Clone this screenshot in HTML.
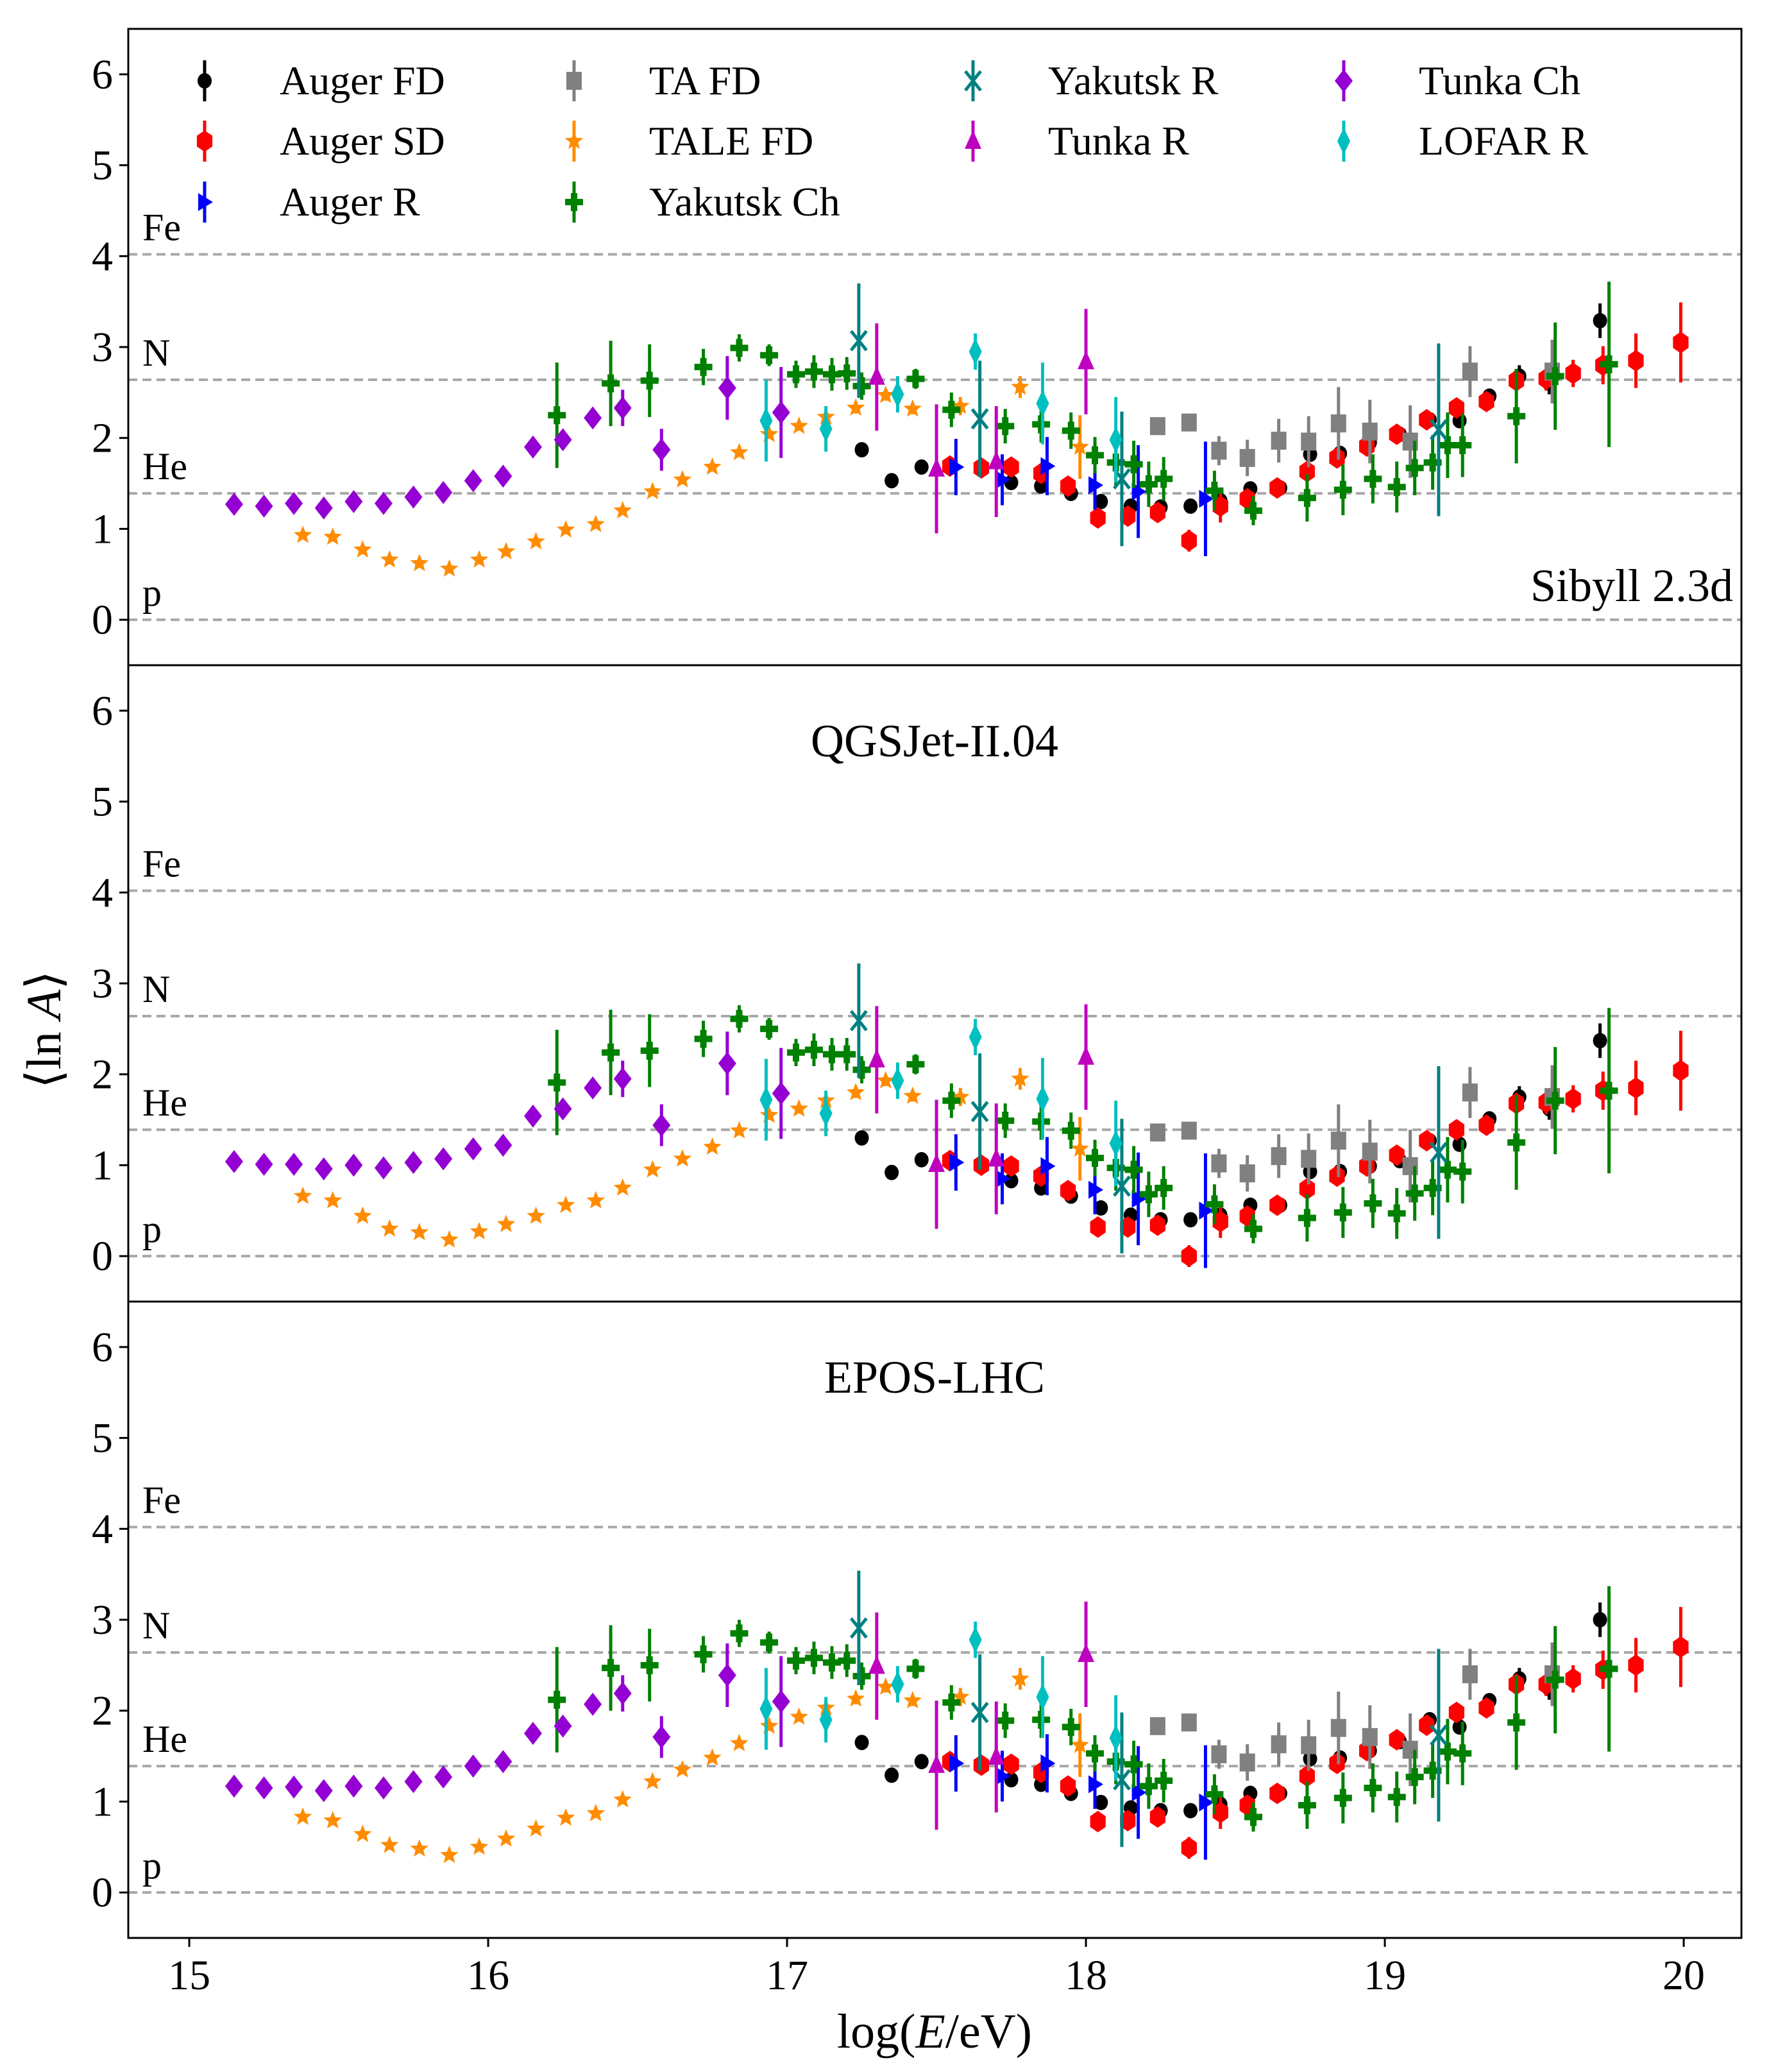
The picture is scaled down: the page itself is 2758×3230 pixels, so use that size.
<!DOCTYPE html>
<html><head><meta charset="utf-8"><style>
html,body{margin:0;padding:0;background:#fff}
svg{display:block}
text{font-family:"Liberation Serif",serif;fill:#000}
</style></head><body>
<svg id="chart" width="2758" height="3230" viewBox="0 0 2758 3230" xmlns="http://www.w3.org/2000/svg">
<rect width="2758" height="3230" fill="#fff"/>
<g id="layer"></g>
<text x="1457" y="3192" font-size="76" text-anchor="middle">log(<tspan font-style="italic">E</tspan>/eV)</text>
<text transform="translate(94,1605) rotate(-90)" font-size="76" text-anchor="middle">⟨ln <tspan font-style="italic">A</tspan>⟩</text>
</svg>
<script>
const panelNames = ["Sibyll 2.3d","QGSJet-II.04","EPOS-LHC"];
const xTicks = [15,16,17,18,19,20];
const yTicks = [0,1,2,3,4,5,6];
const refNames = ["Fe","N","He","p"];
const refValues = [4.02,2.64,1.39,0];

const augerFdX = [17.25,17.35,17.45,17.55,17.65,17.75,17.85,17.95,18.05,18.15,18.25,18.35,18.45,18.55,18.65,18.75,18.85,18.95,19.05,19.15,19.25,19.35,19.45,19.55,19.72];
const augerFdY1 = [1.87,1.53,1.68,1.68,1.66,1.51,1.47,1.39,1.30,1.25,1.24,1.25,1.31,1.44,1.45,1.82,1.83,1.95,2.04,2.20,2.19,2.46,2.68,2.60,3.29];
const augerFdY2 = [1.30,0.92,1.06,1.04,1.01,0.83,0.75,0.66,0.53,0.45,0.40,0.40,0.45,0.56,0.56,0.93,0.93,0.99,1.05,1.27,1.23,1.51,1.75,1.62,2.37];
const augerFdY3 = [1.65,1.29,1.44,1.44,1.40,1.24,1.19,1.09,0.99,0.93,0.90,0.90,0.97,1.09,1.09,1.47,1.48,1.56,1.66,1.90,1.82,2.11,2.35,2.24,3.00];
const augerFdErr = [0.07,0.06,0.05,0.05,0.05,0.05,0.05,0.05,0.05,0.05,0.05,0.05,0.05,0.05,0.05,0.06,0.06,0.06,0.07,0.07,0.08,0.08,0.12,0.12,0.19];

const augerSdX = [17.545,17.65,17.75,17.85,17.94,18.04,18.14,18.24,18.345,18.45,18.54,18.64,18.74,18.84,18.94,19.04,19.14,19.24,19.34,19.44,19.54,19.63,19.73,19.84,19.99];
const augerSdY1 = [1.69,1.67,1.68,1.61,1.47,1.12,1.14,1.18,0.87,1.25,1.33,1.45,1.63,1.78,1.91,2.04,2.20,2.33,2.40,2.63,2.65,2.71,2.80,2.85,3.05];
const augerSdY2 = [1.05,1.00,0.99,0.88,0.72,0.32,0.32,0.34,0.00,0.38,0.44,0.56,0.74,0.88,0.99,1.11,1.27,1.39,1.44,1.68,1.69,1.73,1.82,1.85,2.04];
const augerSdY3 = [1.44,1.40,1.41,1.32,1.17,0.78,0.79,0.83,0.49,0.88,0.96,1.09,1.28,1.42,1.56,1.68,1.84,1.98,2.03,2.29,2.29,2.35,2.45,2.50,2.70];
const augerSdErr = [0.06,0.06,0.06,0.06,0.06,0.07,0.07,0.07,0.12,0.18,0.06,0.06,0.06,0.06,0.06,0.06,0.06,0.06,0.06,0.08,0.13,0.15,0.21,0.3,0.44];

const augerRX = [17.565,17.72,17.87,18.03,18.175,18.40];
const augerRY1 = [1.68,1.54,1.69,1.48,1.41,1.33];
const augerRY2 = [1.03,0.85,0.99,0.73,0.63,0.50];
const augerRY3 = [1.42,1.28,1.42,1.19,1.10,0.99];
const augerRErr = [0.31,0.28,0.32,0.27,0.51,0.63];

const taFdX = [18.24,18.345,18.445,18.54,18.645,18.745,18.845,18.95,19.085,19.285,19.56];
const taFdY1 = [2.13,2.17,1.86,1.78,1.97,1.96,2.16,2.07,1.96,2.73,2.73];
const taFdY2 = [1.36,1.38,1.02,0.91,1.10,1.07,1.27,1.15,0.99,1.80,1.75];
const taFdY3 = [1.83,1.87,1.52,1.43,1.63,1.62,1.81,1.71,1.57,2.40,2.40];
const taFdErr = [0.04,0.04,0.16,0.2,0.24,0.28,0.4,0.35,0.4,0.28,0.35];

const taleX = [15.38,15.48,15.58,15.67,15.77,15.87,15.97,16.06,16.16,16.26,16.36,16.45,16.55,16.65,16.75,16.84,16.94,17.04,17.13,17.23,17.33,17.42,17.58,17.78,17.98];
const taleY1 = [0.93,0.91,0.77,0.66,0.62,0.56,0.66,0.75,0.86,0.99,1.05,1.20,1.41,1.54,1.68,1.84,2.04,2.13,2.23,2.33,2.47,2.32,2.35,2.56,1.90];
const taleY2 = [0.66,0.61,0.44,0.30,0.26,0.18,0.27,0.35,0.44,0.56,0.61,0.75,0.95,1.07,1.20,1.38,1.55,1.62,1.71,1.80,1.93,1.76,1.75,1.95,1.18];
const taleY3 = [0.83,0.79,0.64,0.52,0.48,0.41,0.50,0.59,0.70,0.82,0.87,1.02,1.22,1.35,1.48,1.64,1.83,1.93,2.03,2.13,2.26,2.11,2.15,2.35,1.62];
const taleErr = [0.04,0.04,0.04,0.04,0.04,0.04,0.04,0.04,0.04,0.04,0.04,0.04,0.04,0.04,0.04,0.04,0.05,0.05,0.06,0.06,0.06,0.06,0.1,0.12,0.35];

const yakChX = [16.23,16.41,16.54,16.72,16.84,16.94,17.03,17.09,17.15,17.20,17.25,17.43,17.55,17.73,17.85,17.95,18.03,18.10,18.16,18.21,18.26,18.43,18.56,18.74,18.86,18.96,19.04,19.10,19.16,19.21,19.26,19.44,19.57,19.75];
const yakChY1 = [2.25,2.60,2.63,2.78,2.99,2.91,2.70,2.73,2.70,2.71,2.57,2.65,2.31,2.13,2.15,2.08,1.81,1.73,1.71,1.49,1.55,1.42,1.20,1.34,1.43,1.55,1.46,1.67,1.73,1.92,1.92,2.24,2.68,2.81];
const yakChY2 = [1.91,2.24,2.26,2.39,2.61,2.50,2.24,2.27,2.22,2.22,2.05,2.11,1.71,1.49,1.48,1.38,1.08,0.97,0.95,0.68,0.75,0.57,0.30,0.42,0.48,0.58,0.47,0.69,0.75,0.95,0.93,1.25,1.71,1.82];
const yakChY3 = [2.12,2.47,2.50,2.62,2.85,2.75,2.55,2.58,2.53,2.55,2.38,2.46,2.09,1.89,1.90,1.82,1.53,1.44,1.41,1.17,1.23,1.08,0.83,0.96,1.04,1.15,1.05,1.27,1.34,1.55,1.53,1.87,2.34,2.46];
const yakChErr = [0.58,0.47,0.40,0.20,0.15,0.12,0.15,0.18,0.18,0.18,0.15,0.11,0.19,0.19,0.2,0.2,0.2,0.25,0.26,0.25,0.24,0.22,0.16,0.26,0.28,0.27,0.28,0.3,0.3,0.36,0.35,0.52,0.59,0.91];

const yakRX = [17.24,17.645,18.12,19.18];
const yakRY1 = [3.07,2.21,1.55,2.09];
const yakRY2 = [2.59,1.59,0.77,1.14];
const yakRY3 = [2.91,1.98,1.24,1.73];
const yakRErr = [0.63,0.64,0.74,0.95];

const tunkaRX = [17.30,17.50,17.70,18.0];
const tunkaRY1 = [2.67,1.66,1.74,2.84];
const tunkaRY2 = [2.16,1.01,1.07,2.19];
const tunkaRY3 = [2.49,1.40,1.49,2.62];
const tunkaRErr = [0.59,0.71,0.61,0.58];

const tunkaChX = [15.15,15.25,15.35,15.45,15.55,15.65,15.75,15.85,15.95,16.05,16.15,16.25,16.35,16.45,16.58,16.8,16.98];
const tunkaChY1 = [1.27,1.25,1.28,1.23,1.30,1.28,1.35,1.40,1.53,1.58,1.90,1.98,2.22,2.33,1.87,2.55,2.28];
const tunkaChY2 = [1.04,1.01,1.01,0.96,1.00,0.97,1.03,1.07,1.18,1.22,1.54,1.62,1.85,1.95,1.44,2.12,1.79];
const tunkaChY3 = [1.17,1.15,1.16,1.12,1.17,1.15,1.22,1.27,1.39,1.44,1.75,1.83,2.07,2.19,1.71,2.39,2.10];
const tunkaChErr = [0,0,0,0,0,0,0,0,0,0,0,0,0,0.2,0.23,0.35,0.5];

const lofarX = [16.93,17.13,17.37,17.63,17.855,18.10];
const lofarY1 = [2.19,2.10,2.48,2.95,2.38,1.98];
const lofarY2 = [1.72,1.57,1.93,2.41,1.73,1.24];
const lofarY3 = [2.02,1.90,2.29,2.78,2.15,1.70];
const lofarErr = [0.45,0.25,0.2,0.2,0.45,0.47];

const series = [
 {name:"Auger FD", key:"auger-fd", color:"#000000", m:"o", x:augerFdX, y:[augerFdY1,augerFdY2,augerFdY3], e:augerFdErr},
 {name:"Auger SD", key:"auger-sd", color:"#ff0000", m:"h", x:augerSdX, y:[augerSdY1,augerSdY2,augerSdY3], e:augerSdErr},
 {name:"Auger R", key:"auger-r", color:"#0000ff", m:">", x:augerRX, y:[augerRY1,augerRY2,augerRY3], e:augerRErr},
 {name:"TA FD", key:"ta-fd", color:"#808080", m:"s", x:taFdX, y:[taFdY1,taFdY2,taFdY3], e:taFdErr},
 {name:"TALE FD", key:"tale-fd", color:"#ff8c00", m:"*", x:taleX, y:[taleY1,taleY2,taleY3], e:taleErr},
 {name:"Yakutsk Ch", key:"yakutsk-ch", color:"#008000", m:"P", x:yakChX, y:[yakChY1,yakChY2,yakChY3], e:yakChErr},
 {name:"Yakutsk R", key:"yakutsk-r", color:"#008080", m:"x", x:yakRX, y:[yakRY1,yakRY2,yakRY3], e:yakRErr},
 {name:"Tunka R", key:"tunka-r", color:"#bf00bf", m:"^", x:tunkaRX, y:[tunkaRY1,tunkaRY2,tunkaRY3], e:tunkaRErr},
 {name:"Tunka Ch", key:"tunka-ch", color:"#9400d3", m:"D", x:tunkaChX, y:[tunkaChY1,tunkaChY2,tunkaChY3], e:tunkaChErr},
 {name:"LOFAR R", key:"lofar-r", color:"#00bfbf", m:"d", x:lofarX, y:[lofarY1,lofarY2,lofarY3], e:lofarErr}
];

const NS = "http://www.w3.org/2000/svg";
const layer = document.getElementById("layer");
const L = 200, R = 2715, P0 = 45, PH = 992;
const XMIN = 14.796, XMAX = 20.193, YMIN = -0.5, YMAX = 6.5;
function sx(v){ return L + (v - XMIN) / (XMAX - XMIN) * (R - L); }
function sy(p, v){ return P0 + p*PH + (YMAX - v) / (YMAX - YMIN) * PH; }
function mk(tag, attrs, parent){
  const el = document.createElementNS(NS, tag);
  for (const k in attrs) el.setAttribute(k, attrs[k]);
  (parent || layer).appendChild(el);
  return el;
}
function marker(g, m, cx, cy, color){
  let el;
  if (m === "o") el = mk("ellipse", {cx:cx, cy:cy, rx:11, ry:12, fill:color}, g);
  else if (m === "h") {
    const r = 14; let pts = [];
    for (let i=0;i<6;i++){ const a = Math.PI/2 + i*Math.PI/3; pts.push((cx+r*Math.cos(a)).toFixed(1)+","+(cy+r*1.2*Math.sin(a)).toFixed(1)); }
    el = mk("polygon", {points:pts.join(" "), fill:color}, g);
  }
  else if (m === ">") el = mk("polygon", {points:`${cx-10},${cy-14} ${cx+13},${cy} ${cx-10},${cy+14}`, fill:color}, g);
  else if (m === "s") el = mk("rect", {x:cx-12, y:cy-14, width:24, height:28, fill:color}, g);
  else if (m === "*") {
    let pts = [];
    for (let i=0;i<10;i++){ const r = i%2 ? 6.5 : 15; const a = -Math.PI/2 + i*Math.PI/5; pts.push((cx+r*Math.cos(a)).toFixed(1)+","+(cy+r*Math.sin(a)).toFixed(1)); }
    el = mk("polygon", {points:pts.join(" "), fill:color}, g);
  }
  else if (m === "P") el = mk("path", {d:`M${cx-5},${cy-14}h10v9h9v10h-9v9h-10v-9h-9v-10h9z`, fill:color}, g);
  else if (m === "x") el = mk("path", {d:`M${cx-12},${cy-15}L${cx+12},${cy+15}M${cx+12},${cy-15}L${cx-12},${cy+15}`, stroke:color, "stroke-width":5, fill:"none"}, g);
  else if (m === "^") el = mk("polygon", {points:`${cx},${cy-17} ${cx+13},${cy+12} ${cx-13},${cy+12}`, fill:color}, g);
  else if (m === "D") el = mk("polygon", {points:`${cx},${cy-18} ${cx+14},${cy} ${cx},${cy+18} ${cx-14},${cy}`, fill:color}, g);
  else if (m === "d") el = mk("polygon", {points:`${cx},${cy-21} ${cx+10},${cy} ${cx},${cy+21} ${cx-10},${cy}`, fill:color}, g);
  return el;
}

for (let p=0; p<3; p++){
  const top = P0 + p*PH;
  const pg = mk("g", {});
  
  
  refValues.forEach((v,i)=>{
    const ln = mk("line", {x1:L, x2:R, y1:sy(p,v), y2:sy(p,v), stroke:"#a8a8a8", "stroke-width":4, "stroke-dasharray":"14 8"}, pg);
    
    
    const t = mk("text", {x:222, y:sy(p,v)-22, "font-size":60}, pg);
    t.textContent = refNames[i];
    
    
  });
  yTicks.forEach(v=>{
    const y = sy(p,v);
    const tk = mk("line", {x1:L-14, x2:L, y1:y, y2:y, stroke:"#000", "stroke-width":3}, pg);
    
    
    const t = mk("text", {x:L-24, y:y+22, "font-size":66, "text-anchor":"end"}, pg);
    t.textContent = v;
    
    
  });
  series.forEach(s=>{
    const g = mk("g", {}, pg);
    
    
    const ys = s.y[p];
    s.x.forEach((xv,i)=>{
      const cx = sx(xv), cy = sy(p, ys[i]);
      if (s.e[i] > 0){
        const eb = mk("line", {x1:cx, x2:cx, y1:sy(p, ys[i]+s.e[i]), y2:sy(p, ys[i]-s.e[i]), stroke:s.color, "stroke-width":5}, g);
        
        
      }
      const m = marker(g, s.m, cx, cy, s.color);
      
      
    });
  });
  const fr = mk("rect", {x:L, y:top, width:R-L, height:PH, fill:"none", stroke:"#000", "stroke-width":3}, pg);
  
  
  const tt = mk("text", {"font-size":72}, pg);
  if (p === 0){ tt.setAttribute("x", 2702); tt.setAttribute("y", 937); tt.setAttribute("text-anchor","end"); }
  else { tt.setAttribute("x", 1457); tt.setAttribute("y", top + 142); tt.setAttribute("text-anchor","middle"); }
  tt.textContent = panelNames[p];
  
  
}

xTicks.forEach(v=>{
  const x = sx(v), y = P0 + 3*PH;
  const tk = mk("line", {x1:x, x2:x, y1:y, y2:y+14, stroke:"#000", "stroke-width":3});
  
  
  const t = mk("text", {x:x, y:y+80, "font-size":66, "text-anchor":"middle"});
  t.textContent = v;
  
  
});

const legCols = [319, 895, 1517, 2095];
const legRows = [126, 220, 315];
const legLayout = [[0,0],[0,1],[0,2],[1,0],[1,1],[1,2],[2,0],[2,1],[3,0],[3,1]];
const lg = mk("g", {});


series.forEach((s,i)=>{
  const [c,r] = legLayout[i];
  const cx = legCols[c], cy = legRows[r];
  const eg = mk("g", {}, lg);
  
  
  mk("line", {x1:cx, x2:cx, y1:cy-32, y2:cy+32, stroke:s.color, "stroke-width":5}, eg);
  marker(eg, s.m, cx, cy, s.color);
  const t = mk("text", {x:cx+117, y:cy+21, "font-size":64}, eg);
  t.textContent = s.name;
});
</script>
</body></html>
